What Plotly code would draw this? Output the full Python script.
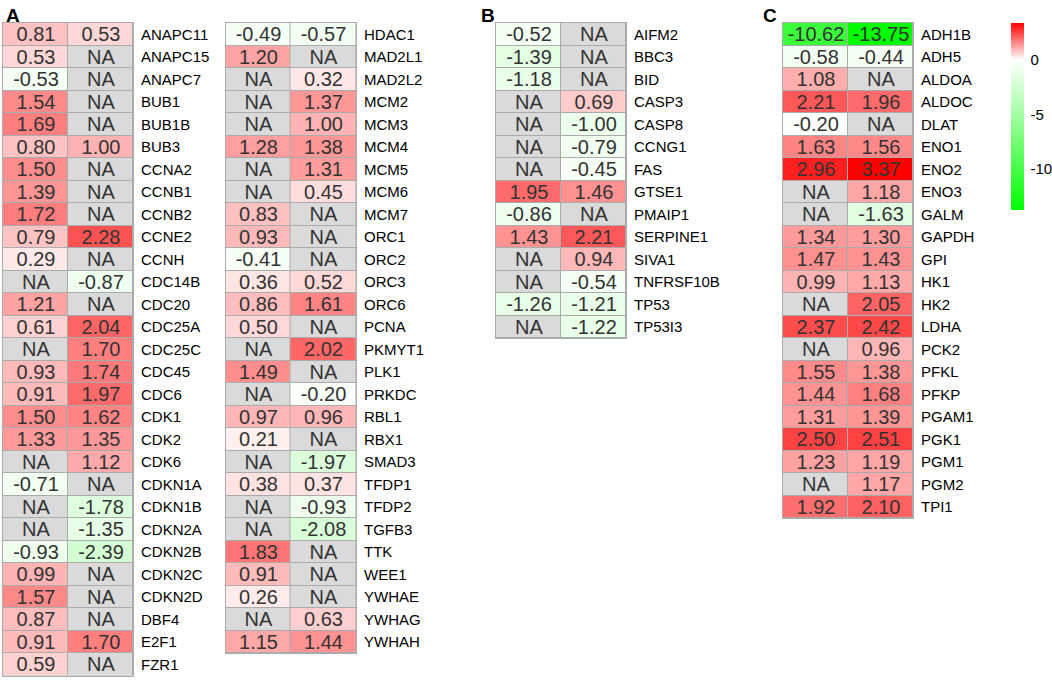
import plotly.graph_objects as go

NA = None

# Panel A (left table)
genes_a1 = ["ANAPC11", "ANAPC15", "ANAPC7", "BUB1", "BUB1B", "BUB3", "CCNA2", "CCNB1",
            "CCNB2", "CCNE2", "CCNH", "CDC14B", "CDC20", "CDC25A", "CDC25C", "CDC45",
            "CDC6", "CDK1", "CDK2", "CDK6", "CDKN1A", "CDKN1B", "CDKN2A", "CDKN2B",
            "CDKN2C", "CDKN2D", "DBF4", "E2F1", "FZR1"]
a1_col1 = [0.81, 0.53, -0.53, 1.54, 1.69, 0.80, 1.50, 1.39, 1.72, 0.79, 0.29, NA, 1.21,
           0.61, NA, 0.93, 0.91, 1.50, 1.33, NA, -0.71, NA, NA, -0.93, 0.99, 1.57, 0.87,
           0.91, 0.59]
a1_col2 = [0.53, NA, NA, NA, NA, 1.00, NA, NA, NA, 2.28, NA, -0.87, NA, 2.04, 1.70, 1.74,
           1.97, 1.62, 1.35, 1.12, NA, -1.78, -1.35, -2.39, NA, NA, NA, 1.70, NA]

# Panel A (right table)
genes_a2 = ["HDAC1", "MAD2L1", "MAD2L2", "MCM2", "MCM3", "MCM4", "MCM5", "MCM6", "MCM7",
            "ORC1", "ORC2", "ORC3", "ORC6", "PCNA", "PKMYT1", "PLK1", "PRKDC", "RBL1",
            "RBX1", "SMAD3", "TFDP1", "TFDP2", "TGFB3", "TTK", "WEE1", "YWHAE", "YWHAG",
            "YWHAH"]
a2_col1 = [-0.49, 1.20, NA, NA, NA, 1.28, NA, NA, 0.83, 0.93, -0.41, 0.36, 0.86, 0.50, NA,
           1.49, NA, 0.97, 0.21, NA, 0.38, NA, NA, 1.83, 0.91, 0.26, NA, 1.15]
a2_col2 = [-0.57, NA, 0.32, 1.37, 1.00, 1.38, 1.31, 0.45, NA, NA, NA, 0.52, 1.61, NA, 2.02,
           NA, -0.20, 0.96, NA, -1.97, 0.37, -0.93, -2.08, NA, NA, NA, 0.63, 1.44]

# Panel B
genes_b = ["AIFM2", "BBC3", "BID", "CASP3", "CASP8", "CCNG1", "FAS", "GTSE1", "PMAIP1",
           "SERPINE1", "SIVA1", "TNFRSF10B", "TP53", "TP53I3"]
b_col1 = [-0.52, -1.39, -1.18, NA, NA, NA, NA, 1.95, -0.86, 1.43, NA, NA, -1.26, NA]
b_col2 = [NA, NA, NA, 0.69, -1.00, -0.79, -0.45, 1.46, NA, 2.21, 0.94, -0.54, -1.21, -1.22]

# Panel C
genes_c = ["ADH1B", "ADH5", "ALDOA", "ALDOC", "DLAT", "ENO1", "ENO2", "ENO3", "GALM",
           "GAPDH", "GPI", "HK1", "HK2", "LDHA", "PCK2", "PFKL", "PFKP", "PGAM1", "PGK1",
           "PGM1", "PGM2", "TPI1"]
c_col1 = [-10.62, -0.58, 1.08, 2.21, -0.20, 1.63, 2.96, NA, NA, 1.34, 1.47, 0.99, NA, 2.37,
          NA, 1.55, 1.44, 1.31, 2.50, 1.23, NA, 1.92]
c_col2 = [-13.75, -0.44, NA, 1.96, NA, 1.56, 3.37, 1.18, -1.63, 1.30, 1.43, 1.13, 2.05,
          2.42, 0.96, 1.38, 1.68, 1.39, 2.51, 1.19, 1.17, 2.10]

panel_letters = ["A", "B", "C"]
colorbar_ticks = [0, -5, -10]
colorbar_ticktext = ["0", "-5", "-10"]
zmin, zmax = -13.75, 3.37

W, H = 1052, 680
ROW_H = 22.5
TOP = 23
FONT = "Liberation Sans"
BORDER = "#ABABAB"
NA_GRAY = "#DADADA"

tables = [
    (genes_a1, a1_col1, a1_col2, 3, 133),
    (genes_a2, a2_col1, a2_col2, 225.5, 356),
    (genes_b, b_col1, b_col2, 496, 626),
    (genes_c, c_col1, c_col2, 783, 913),
]

white_pos = (0 - zmin) / (zmax - zmin)
colorscale = [[0, "#00FF00"], [white_pos, "#FFFFFF"], [1, "#FF0000"]]

fig = go.Figure()
layout_axes = {}
for i, (genes, c1, c2, x0, x1) in enumerate(tables, start=1):
    xa = "x" if i == 1 else f"x{i}"
    ya = "y" if i == 1 else f"y{i}"
    z = [[a, b] for a, b in zip(c1, c2)]
    txt = [["" if v is None else f"{v:.2f}" for v in row] for row in z]
    zna = [[0 if v is None else None for v in row] for row in z]
    txtna = [["NA" if v is None else "" for v in row] for row in z]
    cols = [0, 1]
    fig.add_trace(go.Heatmap(
        z=z, x=cols, y=genes, text=txt, texttemplate="%{text}",
        textfont=dict(family=FONT, size=20, color="#333333"),
        coloraxis="coloraxis", xgap=1, ygap=1, hoverinfo="skip",
        xaxis=xa, yaxis=ya))
    fig.add_trace(go.Heatmap(
        z=zna, x=cols, y=genes, text=txtna, texttemplate="%{text}",
        textfont=dict(family=FONT, size=20, color="#333333"),
        colorscale=[[0, NA_GRAY], [1, NA_GRAY]], showscale=False,
        xgap=1, ygap=1, hoverinfo="skip", xaxis=xa, yaxis=ya))
    n = len(genes)
    ytop = TOP
    ybot = TOP + n * ROW_H
    kx = "xaxis" if i == 1 else f"xaxis{i}"
    ky = "yaxis" if i == 1 else f"yaxis{i}"
    layout_axes[kx] = dict(
        domain=[x0 / W, x1 / W], range=[-0.5, 1.5], showticklabels=False,
        showgrid=False, zeroline=False, ticks="", showline=True, mirror=True,
        linecolor=BORDER, linewidth=1, anchor=ya, fixedrange=True)
    layout_axes[ky] = dict(
        domain=[1 - ybot / H, 1 - ytop / H], type="category",
        range=[n - 0.5, -0.5], side="right", showgrid=False, zeroline=False,
        ticks="", ticklabelstandoff=4, showline=True, mirror=True,
        linecolor=BORDER, linewidth=1, anchor=xa,
        tickfont=dict(family=FONT, size=15, color="#000000"), fixedrange=True)

letter_pos = [(4, 3), (479, 3), (761, 3)]
annotations = []
for letter, (px, py) in zip(panel_letters, letter_pos):
    annotations.append(dict(
        text=f"<b>{letter}</b>", x=px / W, y=1 - py / H, xref="paper", yref="paper",
        xanchor="left", yanchor="top", showarrow=False,
        font=dict(family=FONT, size=19, color="#000000")))

fig.update_layout(
    width=W, height=H, margin=dict(l=0, r=0, t=0, b=0),
    paper_bgcolor="white", plot_bgcolor=BORDER, showlegend=False,
    annotations=annotations,
    coloraxis=dict(
        cmin=zmin, cmax=zmax, colorscale=colorscale,
        colorbar=dict(
            x=1010.5 / W, xanchor="left", y=1 - 23 / H, yanchor="top",
            thickness=13, thicknessmode="pixels", len=187, lenmode="pixels",
            xpad=0, ypad=0, outlinewidth=0, tickvals=colorbar_ticks,
            ticktext=colorbar_ticktext,
            ticks="outside", ticklen=4, tickcolor="white",
            tickfont=dict(family=FONT, size=15, color="#000000"))),
    **layout_axes)

fig.write_html("out.html", config={"displayModeBar": False},
               post_script="document.body.style.margin='0';")
